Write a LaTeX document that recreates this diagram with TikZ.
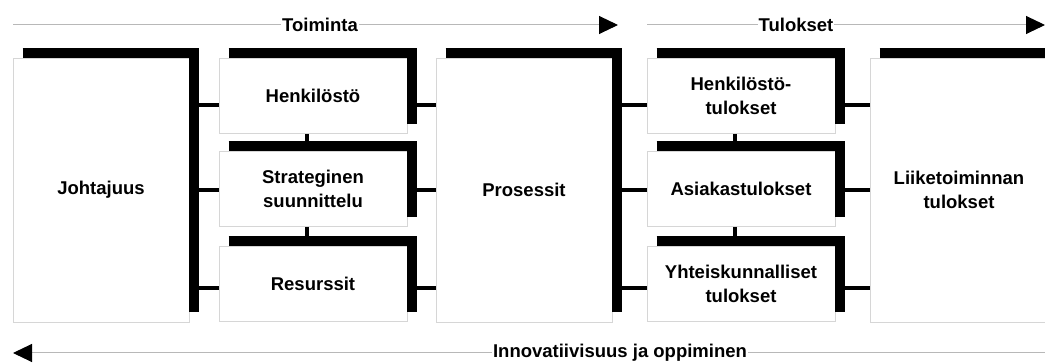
\documentclass[tikz,border=0pt]{standalone}
\usepackage{fontspec}
\setmainfont{Liberation Sans}
\usetikzlibrary{arrows.meta}
\definecolor{boxline}{gray}{0.84}
\definecolor{arrline}{gray}{0.72}
\begin{document}
\begin{tikzpicture}[x=1pt,y=1pt,
  font=\bfseries\fontsize{18.5}{24}\selectfont,
  box/.style={draw=boxline, line width=0.8pt, fill=white, inner sep=0pt, align=center},
  bigbox/.style={box, minimum width=176pt, minimum height=264pt},
  smallbox/.style={box, minimum width=188pt, minimum height=75pt},
  shadowbar/.style={line width=10pt, black},
  link/.style={line width=4pt, black},
  flow/.style={draw=arrline, line width=1pt, -{Triangle[length=19pt,width=18pt,color=black,fill=black]}},
  lbl/.style={fill=white, inner sep=1pt}]
\useasboundingbox (0,0) rectangle (1045,363);
\node[bigbox] (jo) at (101,173) {Johtajuus};
\node[smallbox] (he) at (313,267) {Henkilöstö};
\node[smallbox] (st) at (313,174) {Strateginen\\suunnittelu};
\node[smallbox] (re) at (313,79) {Resurssit};
\node[bigbox] (pr) at (524,173) {Prosessit};
\node[smallbox] (ht) at (741,267) {Henkilöstö-\\tulokset};
\node[smallbox] (as) at (741,174) {Asiakastulokset};
\node[smallbox] (yt) at (741,79) {Yhteiskunnalliset\\tulokset};
\node[bigbox, minimum width=178pt] (li) at (959,173) {Liiketoiminnan\\tulokset};
\foreach \b in {jo,he,st,re,pr,ht,as,yt,li}
  \draw[shadowbar] ([shift={(10,5)}]\b.north west) -- ([shift={(5,5)}]\b.north east) -- ([shift={(5,10)}]\b.south east);
\foreach \a/\l/\r/\d in {he/jo/pr/-9, st/jo/pr/-1, re/jo/pr/-4, ht/pr/li/-9, as/pr/li/-1, yt/pr/li/-4} {
  \draw[link] ([yshift=\d pt]\a.west) -- ([yshift=\d pt]\a.west -| \l.east);
  \draw[link] ([yshift=\d pt]\a.east) -- ([yshift=\d pt]\a.east -| \r.west);
}
\foreach \u/\v in {he/st, st/re, ht/as, as/yt}
  \draw[link] ([xshift=-6pt]\u.south) -- ([xshift=-6pt]\v.north);
\coordinate (t1) at (13,338);
\coordinate (t1e) at (618,338);
\coordinate (t2) at (647,338);
\coordinate (t2e) at (1045,338);
\coordinate (b1) at (1045,10);
\coordinate (b1e) at (13,10);
\draw[flow] (t1) -- (t1e);
\draw[flow] (t2) -- (t2e);
\draw[flow] (b1) -- (b1e);
\node[lbl] (toiminta) at (320,338) {Toiminta};
\node[lbl] (tulokset) at (796,338) {Tulokset};
\node[lbl] (innov) at (620,10) {Innovatiivisuus ja oppiminen};
\end{tikzpicture}
\end{document}
